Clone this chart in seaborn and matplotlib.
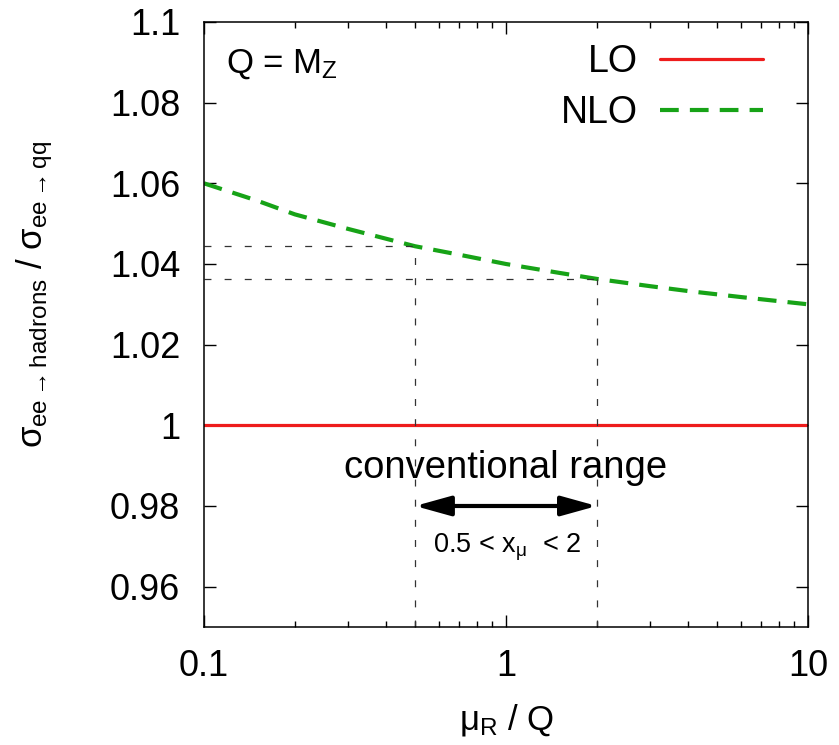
import matplotlib
matplotlib.use("Agg")
import matplotlib.pyplot as plt
import matplotlib.ticker as mticker
import numpy as np
import pandas as pd
import seaborn as sns

## ===================== data =====================

mu_ratio = [0.1, 0.15, 0.2, 0.3, 0.5, 0.7, 1.0, 1.5, 2.0, 3.0, 4.0, 6.0, 10.0]
nlo = [1.0600, 1.0557, 1.0523, 1.0487, 1.0444, 1.0423, 1.0400, 1.0378, 1.0363, 1.0345, 1.0333, 1.0318, 1.0300]
lo = [1.0] * len(mu_ratio)

range_lo, range_hi = 0.5, 2.0
nlo_at_lo, nlo_at_hi = 1.0444, 1.0363

y_ticks = [0.96, 0.98, 1.0, 1.02, 1.04, 1.06, 1.08, 1.1]
y_labels = ["0.96", "0.98", "1", "1.02", "1.04", "1.06", "1.08", "1.1"]
x_ticks = [0.1, 1, 10]
x_labels = ["0.1", "1", "10"]

df = pd.DataFrame({"mu": mu_ratio * 2,
                   "ratio": lo + nlo,
                   "order": ["LO"] * len(mu_ratio) + ["NLO"] * len(mu_ratio)})

## ===================== draw =====================

sns.set_theme(style="ticks")
plt.rcParams["font.family"] = ["Liberation Sans", "DejaVu Sans"]
plt.rcParams["mathtext.fontset"] = "custom"
plt.rcParams["mathtext.rm"] = "Liberation Sans"
plt.rcParams["mathtext.it"] = "Liberation Sans"
plt.rcParams["mathtext.fallback"] = "stixsans"
plt.rcParams["lines.scale_dashes"] = False
plt.rcParams["text.color"] = "black"
plt.rcParams["axes.labelcolor"] = "black"

fig = plt.figure(figsize=(8.39, 7.45), dpi=100)
ax = fig.add_axes([0.2431, 0.1584, 0.7199, 0.8121])

red = "#ee1c1c"
green = "#17a317"
gray = "#333333"

sns.lineplot(data=df[df["order"] == "LO"], x="mu", y="ratio", ax=ax,
             color=red, linewidth=2.3, label="LO")
sns.lineplot(data=df[df["order"] == "NLO"], x="mu", y="ratio", ax=ax,
             color=green, linewidth=3.0, label="NLO")
ax.lines[1].set_dashes((13.5, 8))

# guide lines of the conventional range
ax.plot([mu_ratio[0], range_lo], [nlo_at_lo, nlo_at_lo], color=gray, lw=0.9, dashes=(5, 9.5))
ax.plot([mu_ratio[0], range_hi], [nlo_at_hi, nlo_at_hi], color=gray, lw=0.9, dashes=(5, 9.5))
ax.plot([range_lo, range_lo], [0.95, nlo_at_lo], color=gray, lw=0.9, dashes=(5, 9.5))
ax.plot([range_hi, range_hi], [0.95, nlo_at_hi], color=gray, lw=0.9, dashes=(5, 9.5))

ax.annotate("", xy=(range_hi, 0.980), xytext=(range_lo, 0.980),
            arrowprops=dict(arrowstyle="<|-|>,head_length=1.8,head_width=0.5",
                            color="black", lw=3, shrinkA=0, shrinkB=0))
ax.text(1.0, 0.987, "conventional range", ha="center", va="baseline", fontsize=27.5)
ax.text(1.01, 0.9684, r"0.5 < x$_{\mu}$  < 2", ha="center", va="baseline", fontsize=19.5)
ax.text(0.1185, 1.0875, r"Q = M$_\mathrm{Z}$", ha="left", va="baseline", fontsize=25)

ax.set_xscale("log")
ax.set_xlim(0.1, 10)
ax.set_ylim(0.95, 1.1)
ax.xaxis.set_major_locator(mticker.FixedLocator(x_ticks))
ax.xaxis.set_major_formatter(mticker.FixedFormatter(x_labels))
ax.xaxis.set_minor_locator(mticker.LogLocator(base=10, subs=np.arange(2, 10)))
ax.xaxis.set_minor_formatter(mticker.NullFormatter())
ax.yaxis.set_major_locator(mticker.FixedLocator(y_ticks))
ax.yaxis.set_major_formatter(mticker.FixedFormatter(y_labels))

ax.tick_params(which="both", direction="in", top=True, right=True, width=1.0, color="black")
ax.tick_params(which="major", length=8.5, labelsize=26, labelcolor="black")
ax.tick_params(which="minor", length=4)
ax.tick_params(axis="x", which="major", pad=16)
ax.tick_params(axis="y", which="major", pad=17)
for s in ax.spines.values():
    s.set_linewidth(1.1)
    s.set_color("black")

ax.set_xlabel(r"$\mu_\mathrm{R}$ / Q", fontsize=25)
ax.set_ylabel(r"$\sigma_{\mathrm{ee}\rightarrow\mathrm{hadrons}}$ / $\sigma_{\mathrm{ee}\rightarrow\mathrm{qq}}$", fontsize=25)
ax.xaxis.set_label_coords(0.5, -0.154)
ax.xaxis.label.set_va("center")
ax.yaxis.set_label_coords(-0.28, 0.55)
ax.yaxis.label.set_va("center")

ax.legend(loc="upper right", bbox_to_anchor=(0.963, 1.0), markerfirst=False, frameon=False,
          fontsize=27, handlelength=2.75, handletextpad=0.6, labelspacing=0.38,
          borderaxespad=0.2)

plt.savefig("out.png", dpi=100)
